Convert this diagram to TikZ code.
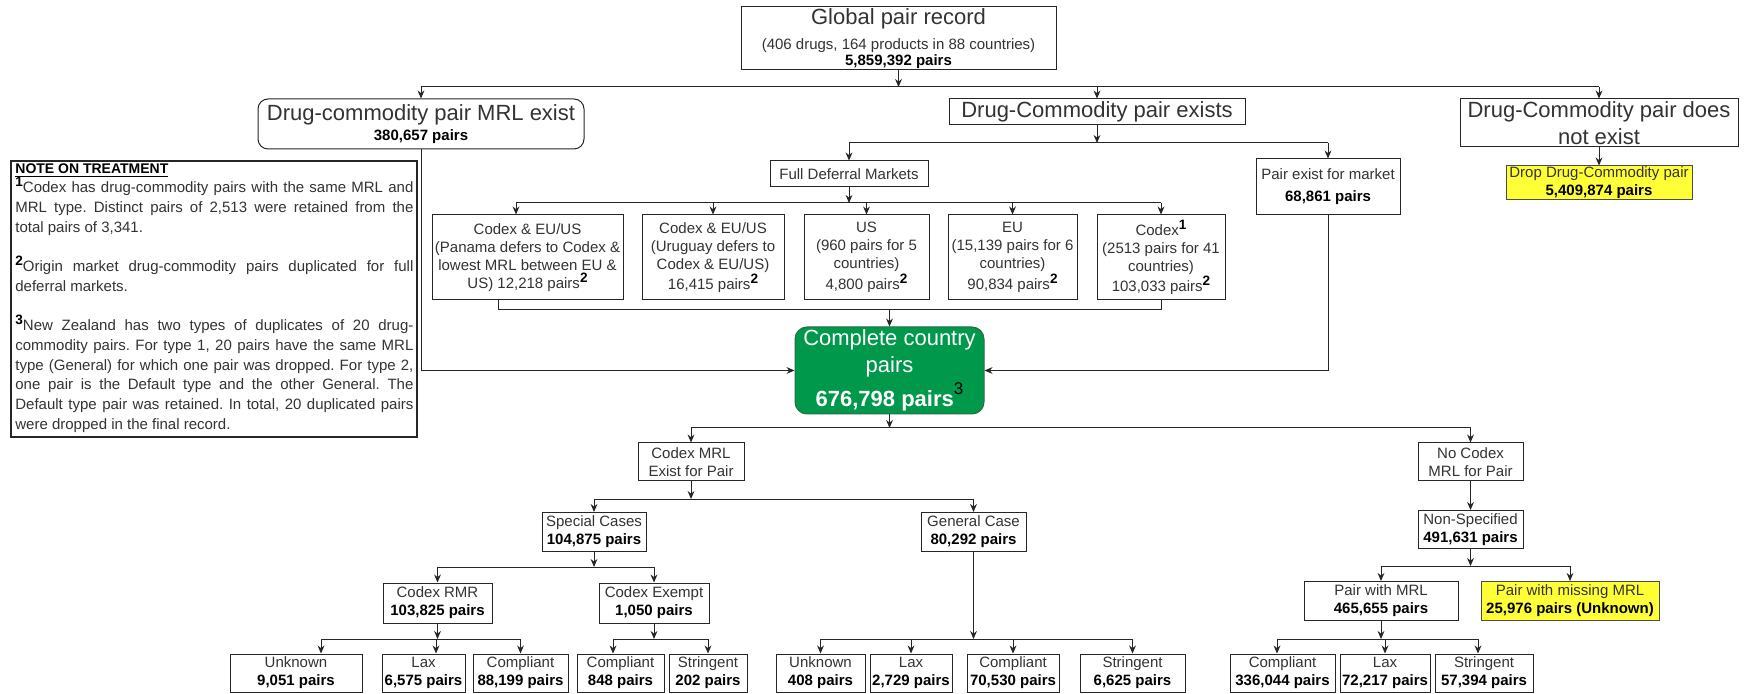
\documentclass[tikz,border=0pt]{standalone}
\usepackage{fontspec}
\setmainfont{Liberation Sans}
\usetikzlibrary{arrows.meta}
\definecolor{cgreen}{HTML}{00984A}
\definecolor{cgreenb}{HTML}{2E6B40}
\definecolor{cyel}{HTML}{FFFF38}
\definecolor{ctxt}{HTML}{333333}
\definecolor{cline}{HTML}{262626}
\newcommand{\fbig}{\fontsize{11}{13.5}\selectfont}
\newcommand{\bnum}[1]{\textbf{\color{black}#1}}
\newcommand{\sups}[1]{\raisebox{0.4em}{\fontsize{6.8}{6.8}\selectfont\bfseries\color{black}#1}}
\tikzset{
  bx/.style={draw=cline, line width=0.5pt, fill=white, inner sep=0pt, align=center, text=ctxt, font=\fontsize{7.5}{9}\selectfont},
  wh/.style n args={2}{minimum width=#1*0.5pt, minimum height=#2*0.5pt},
  ar/.style={draw=cline, line width=0.5pt, -{Stealth[length=4pt,width=3.4pt]}},
  ln/.style={draw=cline, line width=0.5pt},
  yel/.style={fill=cyel, draw=black!70},
  rnd/.style={rounded corners=5pt},
}
\begin{document}
\begin{tikzpicture}[x=0.5pt,y=-0.5pt]
\useasboundingbox (0,0) rectangle (1749,694);
\fill[white] (0,0) rectangle (1749,694);

% top level
\node[bx, wh={315}{63}] (glob) at (898.5,38.5) {{\fbig Global pair record}\\[3.5pt] (406 drugs, 164 products in 88 countries)\\[-1pt] \bnum{5,859,392 pairs}};
\node[bx, rnd, wh={326}{50}] (mrl) at (421,124) {{\fbig Drug-commodity pair MRL exist}\\[1pt] \bnum{380,657 pairs}};
\node[bx, wh={296}{26}] (exists) at (1097,112) {\fbig Drug-Commodity pair exists};
\node[bx, wh={278}{48}, font=\fbig] (notex) at (1599,123) {Drug-Commodity pair does\\ not exist};
\node[bx, yel, wh={186}{34}] (drop) at (1599,183) {Drop Drug-Commodity pair\\ \bnum{5,409,874 pairs}};

% second level
\node[bx, wh={158}{26}] (fdm) at (849,174) {Full Deferral Markets};
\node[bx, wh={144}{56}] (pem) at (1328,187) {Pair exist for market\\[2pt] \bnum{68,861 pairs}};

\node[bx, wh={191}{85}] (pan) at (527.5,257.5) {Codex \& EU/US\\ (Panama defers to Codex \&\\ lowest MRL between EU \&\\ US) 12,218 pairs\sups{2}};
\node[bx, wh={142}{85}] (uru) at (713,257.5) {Codex \& EU/US\\ (Uruguay defers to\\ Codex \& EU/US)\\ 16,415 pairs\sups{2}};
\node[bx, wh={125}{85}] (us) at (866.5,257.5) {US\\ (960 pairs for 5\\ countries)\\ 4,800 pairs\sups{2}};
\node[bx, wh={129}{85}] (eu) at (1012.5,257.5) {EU\\ (15,139 pairs for 6\\ countries)\\ 90,834 pairs\sups{2}};
\node[bx, wh={128}{85}] (cdx) at (1161,257.5) {Codex\sups{1}\\ (2513 pairs for 41\\ countries)\\ 103,033 pairs\sups{2}};

\node[draw=cgreenb, fill=cgreen, line width=0.5pt, rounded corners=6pt, inner sep=0pt, align=center, text=white, font=\fbig, wh={189}{87}] (comp) at (889.5,370.5) {Complete country\\ pairs\\[2pt] \textbf{676,798 pairs}\raisebox{0.55em}{\fontsize{8.5}{8.5}\selectfont\color{black}3}};

% note
\node[draw=cline, line width=0.6pt, wh={406}{276}, inner sep=0pt] (note) at (214,299) {};
\node[anchor=north west, text width=199pt, align=justify, inner sep=0pt, text=ctxt, font=\fontsize{7.5}{9.85}\selectfont] (notetxt) at (15,163) {\frenchspacing\hyphenpenalty=10000\exhyphenpenalty=10000
{\fontsize{7}{9.85}\selectfont\textbf{\color{black}\underline{NOTE ON TREATMENT}}}\par
\sups{1}Codex has drug-commodity pairs with the same MRL and\linebreak MRL type. Distinct pairs of 2,513 were retained from the\linebreak total pairs of 3,341.\par\vspace{9.85pt}
\sups{2}Origin market drug-commodity pairs duplicated for full\linebreak deferral markets.\par\vspace{9.85pt}
\sups{3}New Zealand has two types of duplicates of 20 drug-\linebreak commodity pairs. For type 1, 20 pairs have the same MRL\linebreak type (General) for which one pair was dropped. For type 2,\linebreak one pair is the Default type and the other General. The\linebreak Default type pair was retained. In total, 20 duplicated pairs\linebreak were dropped in the final record.\par};

% lower tree
\node[bx, wh={106}{38}] (cmrl) at (691,462) {Codex MRL\\ Exist for Pair};
\node[bx, wh={105}{38}] (ncmrl) at (1470.5,462) {No Codex\\ MRL for Pair};
\node[bx, wh={104}{39}] (spec) at (594,532) {Special Cases\\ \bnum{104,875 pairs}};
\node[bx, wh={105}{39}] (gen) at (973.5,532) {General Case\\ \bnum{80,292 pairs}};
\node[bx, wh={105}{38}] (nons) at (1470.5,529.5) {Non-Specified\\ \bnum{491,631 pairs}};
\node[bx, wh={109}{40}] (rmr) at (437.5,603) {Codex RMR\\ \bnum{103,825 pairs}};
\node[bx, wh={110}{40}] (exm) at (654,603) {Codex Exempt\\ \bnum{1,050 pairs}};
\node[bx, wh={154}{39}] (pwm) at (1381,601) {Pair with MRL\\ \bnum{465,655 pairs}};
\node[bx, yel, wh={178}{39}] (pmm) at (1570,601) {Pair with missing MRL\\ \bnum{25,976 pairs (Unknown)}};

\node[bx, wh={132}{38}] (u1) at (296,673) {Unknown\\ \bnum{9,051 pairs}};
\node[bx, wh={83}{38}] (l1) at (423.5,673) {Lax\\ \bnum{6,575 pairs}};
\node[bx, wh={95}{38}] (c1) at (520.5,673) {Compliant\\ \bnum{88,199 pairs}};
\node[bx, wh={87}{38}] (c2) at (620.5,673) {Compliant\\ \bnum{848 pairs}};
\node[bx, wh={78}{38}] (s2) at (708,673) {Stringent\\ \bnum{202 pairs}};
\node[bx, wh={89}{38}] (u3) at (820.5,673) {Unknown\\ \bnum{408 pairs}};
\node[bx, wh={82}{38}] (l3) at (911,673) {Lax\\ \bnum{2,729 pairs}};
\node[bx, wh={92}{38}] (c3) at (1013,673) {Compliant\\ \bnum{70,530 pairs}};
\node[bx, wh={105}{38}] (s3) at (1132.5,673) {Stringent\\ \bnum{6,625 pairs}};
\node[bx, wh={105}{38}] (c4) at (1282.5,673) {Compliant\\ \bnum{336,044 pairs}};
\node[bx, wh={90}{38}] (l4) at (1385,673) {Lax\\ \bnum{72,217 pairs}};
\node[bx, wh={98}{38}] (s4) at (1484,673) {Stringent\\ \bnum{57,394 pairs}};

% shifted anchor points
\coordinate (apan) at ([xshift=-5.75pt]pan.north);
\coordinate (bpan) at ([xshift=-14.75pt]pan.south);
\coordinate (au1) at ([xshift=12.5pt]u1.north);
\coordinate (al1) at ([xshift=6.25pt]l1.north);
\coordinate (ac2) at ([xshift=-3.75pt]c2.north);
\coordinate (ac4) at ([xshift=-2.75pt]c4.north);
\coordinate (as4) at ([xshift=-3pt]s4.north);
\coordinate (ac1) at (c1.north);
\coordinate (as2) at (s2.north);
\coordinate (al4) at (l4.north);

% bus coordinates
\coordinate (t1) at (898.5,87);
\coordinate (t2) at (1097,143);
\coordinate (t3) at (849,203);
\coordinate (t4) at (889.5,310);
\coordinate (t5) at (889.5,428);
\coordinate (t6) at (691,499);
\coordinate (t7) at (594,567);
\coordinate (t8) at (1470.5,566);
\coordinate (t9) at (437.5,639);

% connectors
\draw[ar] (glob.south) -- (glob.south |- t1);
\draw[ln] (mrl.north |- t1) -- (notex.north |- t1);
\foreach \n in {mrl,exists,notex} \draw[ar] (\n.north |- t1) -- (\n.north);

\draw[ar] (exists.south) -- (exists.south |- t2);
\draw[ln] (fdm.north |- t2) -- (pem.north |- t2);
\foreach \n in {fdm,pem} \draw[ar] (\n.north |- t2) -- (\n.north);
\draw[ar] (notex.south) -- (drop.north);

\draw[ar] (fdm.south) -- (fdm.south |- t3);
\draw[ln] (apan |- t3) -- (cdx.north |- t3);
\draw[ar] (apan |- t3) -- (apan);
\foreach \n in {uru,us,eu,cdx} \draw[ar] (\n.north |- t3) -- (\n.north);

\draw[ln] (bpan) -- (bpan |- t4) -- (cdx.south |- t4) -- (cdx.south);
\draw[ar] (comp.north |- t4) -- (comp.north);
\draw[ar] (mrl.south) |- (comp.west);
\draw[ar] (pem.south) |- (comp.east);

\draw[ar] (comp.south) -- (comp.south |- t5);
\draw[ln] (cmrl.north |- t5) -- (ncmrl.north |- t5);
\foreach \n in {cmrl,ncmrl} \draw[ar] (\n.north |- t5) -- (\n.north);

\draw[ar] (cmrl.south) -- (cmrl.south |- t6);
\draw[ln] (spec.north |- t6) -- (gen.north |- t6);
\foreach \n in {spec,gen} \draw[ar] (\n.north |- t6) -- (\n.north);
\draw[ar] (ncmrl.south) -- (nons.north);

\draw[ar] (spec.south) -- (spec.south |- t7);
\draw[ln] (rmr.north |- t7) -- (exm.north |- t7);
\foreach \n in {rmr,exm} \draw[ar] (\n.north |- t7) -- (\n.north);

\draw[ar] (nons.south) -- (nons.south |- t8);
\draw[ln] (pwm.north |- t8) -- (pmm.north |- t8);
\foreach \n in {pwm,pmm} \draw[ar] (\n.north |- t8) -- (\n.north);

\draw[ar] (rmr.south) -- (rmr.south |- t9);
\draw[ln] (au1 |- t9) -- (ac1 |- t9);
\foreach \n in {au1,al1,ac1} \draw[ar] (\n |- t9) -- (\n);

\draw[ar] (exm.south) -- (exm.south |- t9);
\draw[ln] (ac2 |- t9) -- (as2 |- t9);
\foreach \n in {ac2,as2} \draw[ar] (\n |- t9) -- (\n);

\draw[ar] (gen.south) -- (gen.south |- t9);
\draw[ln] (u3.north |- t9) -- (s3.north |- t9);
\foreach \n in {u3,l3,c3,s3} \draw[ar] (\n.north |- t9) -- (\n.north);

\draw[ar] (pwm.south) -- (pwm.south |- t9);
\draw[ln] (ac4 |- t9) -- (as4 |- t9);
\foreach \n in {ac4,al4,as4} \draw[ar] (\n |- t9) -- (\n);
\end{tikzpicture}
\end{document}
